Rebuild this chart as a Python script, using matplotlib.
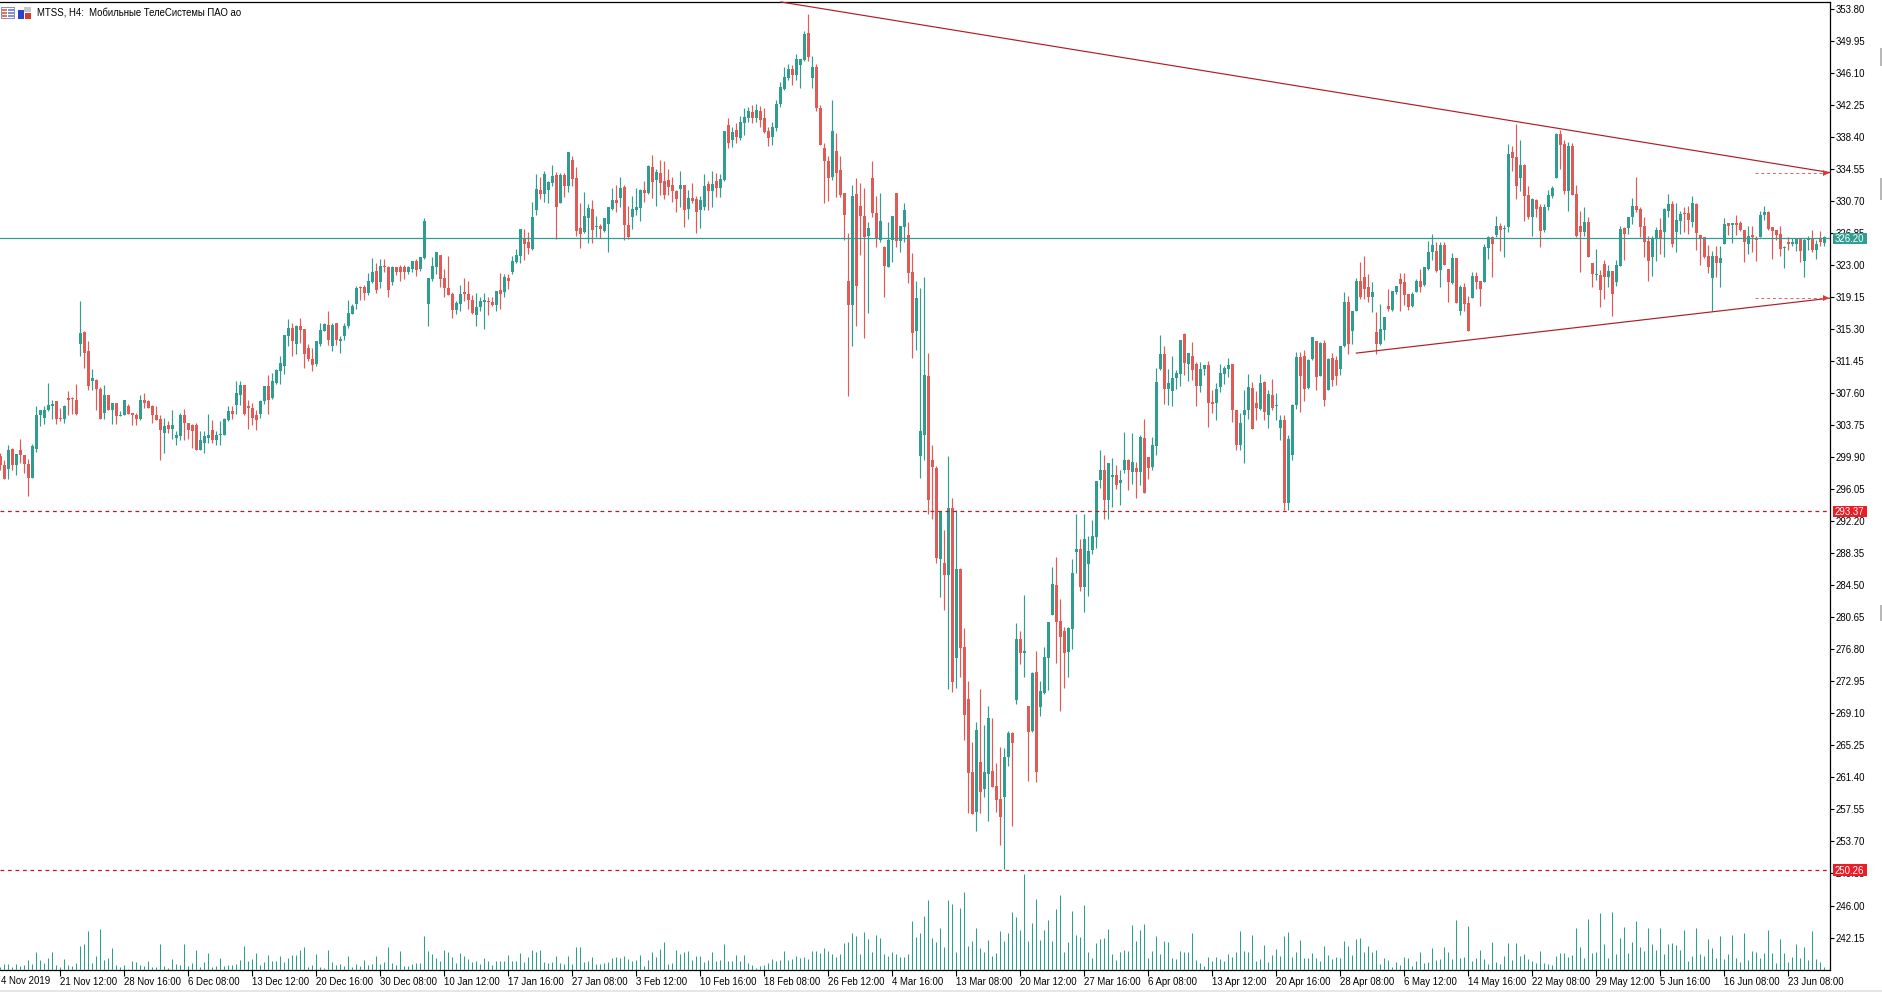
import matplotlib
matplotlib.use("Agg")
import matplotlib.pyplot as plt
from matplotlib.patches import Rectangle
from matplotlib.transforms import IdentityTransform

W, H = 1883, 992
GREEN = "#2f9e91"
RED = "#e25a56"
LEVEL_RED = "#c8141e"
TREND_RED = "#b01c26"
FONT = "Liberation Sans"
FONT_SIZE = 6.9

title = "MTSS, H4:  Мобильные ТелеСистемы ПАО ао"

opens = [
    300.0,299.0,298.5,300.9,298.9,300.8,300.2,299.1,297.4,300.9,304.9,304.6,305.5,306.1,306.6,304.6,304.5,307.0,307.0,306.8,
    313.5,314.9,312.7,309.1,309.2,308.1,305.2,307.4,305.6,306.4,304.8,304.9,306.1,305.2,304.9,304.5,306.8,306.6,306.1,305.0,
    304.5,302.8,303.7,303.3,302.2,302.4,305.0,304.0,303.8,303.7,300.8,301.6,302.2,303.2,302.0,302.5,302.6,304.3,305.4,306.2,
    307.4,308.6,306.1,305.8,304.9,305.1,306.6,308.5,307.0,308.8,310.3,310.8,314.5,315.4,313.5,315.6,315.3,313.0,311.7,311.1,
    313.5,315.1,315.8,313.3,316.0,313.9,314.5,315.6,317.1,318.3,320.4,320.4,319.6,321.0,322.3,321.0,322.9,322.8,321.0,322.7,
    322.7,322.8,322.2,322.5,323.5,322.5,323.8,318.3,321.3,322.8,324.2,321.4,320.2,319.5,317.6,318.3,319.8,319.5,318.8,317.0,
    317.9,318.6,318.7,318.6,318.2,320.0,319.8,321.4,322.2,323.4,324.1,326.1,325.8,324.9,329.6,332.0,331.5,332.0,332.8,333.8,
    330.4,333.8,332.5,335.6,333.4,327.4,327.0,328.6,329.7,327.5,327.7,327.1,327.9,329.7,330.8,331.0,332.4,327.8,328.8,329.6,
    329.8,332.0,331.6,334.8,333.2,334.0,333.1,333.2,332.6,331.9,332.1,332.6,329.7,331.0,330.9,329.6,330.0,332.7,331.9,333.1,
    332.2,333.2,339.8,338.0,339.2,338.2,340.0,340.6,341.4,340.6,341.5,340.6,339.1,338.4,339.4,342.3,344.2,345.5,346.6,345.8,
    347.0,347.6,350.9,345.5,346.8,341.9,337.1,335.5,333.6,336.7,334.4,331.6,321.1,318.2,331.5,330.1,328.9,326.5,333.5,329.2,
    326.0,325.2,322.8,326.0,331.7,325.9,327.6,326.6,322.2,315.0,300.0,302.5,309.7,299.6,298.6,287.7,287.2,285.7,293.8,275.7,
    286.5,277.1,270.8,262.1,257.3,263.2,260.0,261.8,262.2,260.4,258.8,259.0,263.9,266.7,270.7,278.0,276.4,270.0,267.0,274.1,
    269.9,271.6,275.8,280.9,284.5,280.2,279.0,276.5,279.2,288.5,288.8,284.3,287.0,288.7,290.3,297.2,298.4,294.7,297.5,297.8,
    296.8,298.4,299.5,298.1,298.6,298.1,302.2,299.9,298.7,301.2,310.5,312.3,308.1,307.9,309.4,309.9,314.7,311.1,312.1,311.1,
    308.5,310.5,311.0,306.5,306.4,308.3,309.9,310.5,311.1,305.6,301.3,305.0,305.5,308.2,306.4,305.7,308.9,304.9,307.4,306.0,
    303.4,304.4,294.4,300.1,306.2,311.9,312.1,308.2,311.7,313.9,309.7,313.6,308.0,311.8,311.6,310.5,313.2,318.5,315.0,317.4,
    321.1,321.6,320.4,319.1,314.9,313.5,315.2,318.1,317.6,319.7,321.3,320.9,319.5,318.1,319.8,321.1,320.6,322.5,324.6,324.7,
    322.4,325.4,322.5,320.8,323.8,317.4,320.3,318.4,319.0,321.7,321.1,321.0,325.0,326.3,326.6,327.7,327.3,327.6,336.6,336.0,
    333.5,335.0,331.4,328.8,330.8,329.9,327.2,329.9,331.3,333.5,338.7,337.5,331.9,337.3,331.5,327.7,327.0,328.2,323.2,321.8,
    321.8,323.1,321.6,322.3,321.0,322.9,327.4,327.4,328.8,330.1,329.7,327.7,325.9,324.0,326.1,327.2,327.0,329.5,330.3,327.0,
    328.3,329.2,329.2,328.2,330.3,326.6,326.4,324.1,321.4,324.1,323.2,325.5,328.0,327.8,328.0,328.0,327.2,325.5,326.6,326.2,
    326.4,329.0,329.4,327.6,327.2,326.7,325.0,325.7,325.5,325.5,326.2,323.5,326.0,326.1,324.8,326.1,325.6,
]
highs = [
    300.4,299.6,301.4,301.0,300.3,302.1,300.2,299.7,301.5,306.1,305.6,306.0,308.8,306.8,306.6,305.8,306.2,307.9,307.1,308.7,
    318.7,315.0,313.9,310.5,309.3,308.3,308.6,307.4,306.4,306.4,305.4,306.8,306.3,305.2,305.2,307.4,307.6,306.8,306.2,306.1,
    304.9,304.6,304.2,305.6,303.0,305.2,305.7,304.0,303.9,304.0,303.0,303.0,305.1,304.4,303.0,304.2,304.6,306.0,306.0,309.1,
    309.0,308.6,306.8,306.4,305.6,306.8,308.5,309.8,310.0,310.5,312.0,314.6,316.5,316.0,315.8,316.6,315.3,313.5,313.0,313.8,
    316.0,316.0,317.5,316.0,316.0,314.4,316.0,318.8,318.3,320.5,320.5,320.6,322.0,323.8,323.2,323.7,323.7,322.9,322.9,322.8,
    323.0,323.0,322.9,323.5,323.7,324.0,328.6,321.4,324.0,324.5,324.2,322.5,324.1,319.8,318.7,320.6,321.4,321.1,319.4,319.6,
    319.2,319.6,319.2,319.2,319.9,322.0,321.9,321.9,324.1,324.9,327.3,327.3,327.0,330.6,333.9,333.6,334.3,333.1,335.0,334.2,
    334.0,334.0,336.6,336.1,334.8,330.4,331.8,330.3,330.8,328.9,327.9,328.6,330.0,332.2,332.6,333.6,332.6,330.1,331.3,332.2,
    332.1,333.1,335.0,336.2,334.5,335.6,335.5,334.5,333.6,332.0,334.3,332.6,332.0,332.8,331.3,331.3,333.9,333.1,334.3,334.0,
    333.9,339.1,340.6,339.6,340.1,340.9,341.8,342.0,342.2,342.4,342.1,341.8,339.6,340.2,342.8,345.0,346.8,347.2,347.0,348.4,
    347.8,351.1,353.2,348.1,347.2,342.2,337.7,336.1,342.8,338.9,336.1,331.6,326.8,332.6,333.4,332.8,332.2,328.1,335.5,331.3,
    331.6,325.3,328.1,328.9,331.7,327.7,330.5,328.2,324.4,321.1,320.2,321.5,312.4,301.3,298.8,293.4,291.1,300.0,295.0,293.5,
    286.6,279.4,273.0,265.6,268.1,272.0,267.7,270.0,268.5,263.1,265.1,264.9,267.0,266.9,280.0,279.0,283.3,270.0,274.1,276.6,
    273.0,277.1,280.1,286.7,287.9,282.9,279.5,279.5,287.7,293.1,290.1,293.1,290.4,292.3,297.0,300.8,300.1,299.2,299.8,299.0,
    298.4,302.9,299.7,302.8,299.3,302.6,304.5,299.9,302.3,310.6,314.6,313.3,310.5,312.0,310.4,314.0,314.8,312.4,313.7,311.3,
    311.3,311.0,311.5,308.0,308.8,311.1,310.9,311.8,311.1,305.6,305.2,308.0,309.9,308.9,307.9,309.9,309.1,308.0,309.3,307.6,
    305.0,305.0,302.5,306.3,312.5,312.5,312.8,311.7,314.3,313.9,313.7,314.0,311.8,312.4,312.0,313.3,319.8,319.3,317.5,321.4,
    323.3,324.1,321.9,321.0,317.3,318.3,316.7,320.1,319.9,320.5,322.0,322.0,319.5,319.8,321.3,322.5,322.7,325.9,326.7,325.8,
    325.7,325.8,322.5,324.4,323.8,320.6,320.8,319.3,322.2,322.2,321.1,325.5,326.5,326.5,328.9,328.0,327.8,337.5,337.3,339.9,
    338.0,335.1,332.5,331.1,330.9,330.3,330.3,332.0,332.5,338.9,339.2,338.0,337.8,337.7,332.6,329.5,330.0,328.7,323.2,324.9,
    322.4,323.6,323.0,322.3,323.6,327.7,327.6,328.8,331.0,333.6,329.9,328.8,326.5,326.5,327.6,328.6,329.8,331.5,330.7,330.4,
    329.5,329.9,330.1,331.3,330.5,326.6,326.4,325.4,324.7,325.3,325.3,328.6,328.0,328.0,329.0,328.3,327.2,327.7,327.7,326.5,
    329.5,330.1,329.5,327.6,327.2,327.7,325.3,326.4,326.2,326.2,326.2,326.2,326.5,327.2,326.0,327.1,326.5,
]
lows = [
    298.4,297.3,297.3,298.3,297.7,299.2,298.0,295.2,297.4,300.5,303.6,303.9,305.4,304.5,303.9,304.2,304.0,305.0,305.1,304.9,
    312.1,310.6,308.0,308.0,305.5,304.5,304.5,305.6,303.9,303.9,304.8,304.9,305.1,303.7,303.8,304.4,305.8,305.8,304.0,304.4,
    299.6,300.4,302.8,302.1,301.3,301.9,302.0,302.1,301.0,300.8,300.8,300.4,301.6,301.6,301.4,301.3,302.5,304.2,304.5,305.1,
    306.2,305.0,303.3,303.8,303.1,304.6,306.3,305.1,306.9,308.7,308.7,309.9,313.3,312.1,312.3,313.6,310.6,311.4,310.3,310.9,
    313.3,315.1,313.4,312.7,313.4,312.4,314.0,315.4,317.1,317.7,318.8,318.8,319.4,320.8,319.6,320.2,322.2,319.2,320.6,321.8,
    321.1,321.3,321.9,322.2,321.7,322.3,323.7,315.7,321.1,321.9,320.4,319.2,319.4,316.6,317.1,317.5,318.7,317.7,317.1,315.7,
    317.5,315.3,317.0,318.1,317.5,317.7,319.2,320.1,321.9,323.2,323.2,323.6,324.3,324.8,329.0,330.9,330.6,330.4,332.5,326.1,
    330.4,331.2,331.8,332.5,326.5,325.0,326.8,325.6,325.6,326.4,326.2,327.0,324.6,329.6,329.3,330.0,326.0,326.1,327.3,329.0,
    328.3,330.6,331.5,331.0,330.1,331.4,330.9,331.4,330.6,329.4,329.9,327.6,328.5,330.4,326.8,327.4,329.6,329.6,330.0,331.2,
    331.2,333.1,337.0,337.2,337.6,338.0,338.6,340.2,340.0,340.2,339.6,338.9,337.3,337.4,339.1,342.0,344.0,345.2,344.6,345.2,
    344.3,347.5,347.5,344.3,341.5,337.4,330.4,330.7,333.2,331.2,331.2,326.0,307.3,313.3,315.6,324.2,314.2,317.2,328.7,325.1,
    325.8,319.2,322.7,323.4,325.1,324.5,325.8,320.8,311.8,312.8,297.4,299.5,293.0,292.5,287.2,283.1,281.5,272.0,271.7,272.1,
    273.5,265.9,257.1,257.0,254.9,257.1,259.1,256.1,260.2,257.3,253.3,250.4,262.8,255.6,270.2,275.0,273.5,261.0,266.9,260.9,
    268.8,271.4,271.9,280.9,275.1,269.4,272.2,273.5,276.8,286.0,283.8,281.3,283.2,288.2,289.0,296.2,292.4,292.4,293.9,296.1,
    294.2,298.0,295.9,296.7,295.0,296.5,295.6,297.3,298.3,300.1,310.4,306.3,306.2,306.1,308.1,308.5,309.8,309.0,309.2,306.1,
    307.7,309.8,303.5,305.2,304.4,307.7,308.7,309.5,304.1,300.8,300.7,299.2,304.5,303.3,304.4,305.5,304.4,303.4,305.5,304.4,
    302.0,293.5,293.5,299.5,305.7,305.3,306.7,308.1,311.6,308.0,309.7,306.1,308.0,308.4,308.6,309.8,313.1,312.3,313.5,317.4,
    318.9,318.9,318.5,317.3,312.3,313.4,314.0,317.5,317.5,319.5,317.5,318.2,317.6,318.0,319.7,319.7,320.5,322.4,323.6,322.2,
    320.3,323.0,318.6,320.7,318.4,317.0,317.4,315.1,319.0,320.1,318.1,321.0,323.7,321.5,326.3,324.7,324.0,327.0,334.3,330.9,
    331.9,328.3,328.5,326.5,328.7,325.1,327.0,329.6,331.1,333.5,334.5,331.5,329.5,331.4,326.3,322.2,326.5,324.0,320.4,321.2,
    318.0,318.9,320.4,316.8,320.5,322.9,323.6,326.7,327.9,329.4,326.3,324.0,321.1,321.7,323.5,324.3,324.0,328.8,325.1,324.6,
    326.7,326.9,326.7,327.6,324.8,323.0,323.8,322.0,317.5,321.5,320.3,325.5,326.6,325.6,326.6,327.1,323.4,324.3,324.5,323.5,
    326.4,328.4,327.2,323.7,326.0,324.1,322.6,324.8,325.3,324.7,323.4,321.5,324.8,324.5,323.7,325.3,325.3,
]
closes = [
    298.9,297.3,300.8,298.9,300.3,300.1,299.1,297.4,301.2,305.0,305.6,305.5,306.2,306.2,304.5,304.5,306.1,306.8,306.9,305.1,
    314.8,312.4,308.5,309.4,308.1,304.5,307.4,305.6,306.4,304.8,305.0,306.8,305.1,304.9,304.5,306.8,306.4,305.8,304.9,304.4,
    303.1,303.6,303.3,303.7,302.5,304.9,304.0,303.1,303.0,300.8,301.9,302.4,302.6,301.9,302.6,302.5,304.5,305.4,305.1,307.6,
    308.6,305.1,305.8,304.6,304.4,306.7,308.5,306.8,309.0,310.4,311.2,314.6,315.4,313.9,315.6,315.2,312.3,311.7,311.0,313.8,
    315.2,315.9,314.0,315.8,314.0,314.1,315.6,317.2,318.1,320.2,320.2,319.6,321.1,322.2,320.0,322.9,322.7,320.0,322.7,322.2,
    322.1,322.2,322.8,323.5,322.4,324.0,328.3,321.4,322.9,324.5,321.3,320.2,319.4,317.6,318.4,319.5,319.5,318.8,317.2,318.0,
    318.7,318.7,318.5,318.2,319.9,319.5,321.6,321.1,323.5,324.2,327.3,325.5,325.0,328.8,332.1,331.5,333.9,333.0,333.7,330.0,
    333.8,332.5,336.6,333.3,327.1,326.7,328.9,329.8,327.2,327.6,327.3,328.6,330.0,330.8,330.4,332.2,327.8,326.4,329.7,330.0,
    332.0,331.6,334.9,333.0,334.2,332.8,331.4,332.4,331.9,330.9,332.6,329.6,331.0,330.7,329.4,330.8,332.5,331.9,332.7,332.2,
    333.3,339.1,337.7,339.0,338.4,340.2,340.8,341.5,340.6,341.6,340.4,339.0,338.3,339.6,342.4,344.4,345.6,346.6,345.8,347.7,
    347.7,350.8,348.0,346.8,341.8,337.4,335.5,333.5,339.1,334.1,331.4,329.0,318.2,331.3,320.5,328.9,326.4,327.4,329.2,326.2,
    328.3,322.9,326.0,328.9,325.9,327.7,329.6,322.0,314.8,319.0,303.0,309.8,294.8,298.7,287.8,293.4,285.7,293.8,272.9,286.5,
    277.0,268.9,261.9,257.0,267.1,259.7,262.0,268.5,260.3,258.7,256.7,263.8,266.7,265.5,278.0,276.4,276.6,266.9,274.0,262.1,
    271.8,275.9,280.1,284.7,280.1,278.3,276.4,279.3,286.0,288.8,284.3,290.1,288.6,290.4,297.0,298.4,294.8,299.2,297.8,296.6,
    297.1,299.6,298.4,299.3,298.1,302.3,295.6,298.6,301.3,308.9,312.3,308.1,308.8,309.4,310.0,314.0,311.2,312.4,310.4,308.5,
    310.5,311.0,306.4,306.3,308.1,310.0,310.6,311.0,305.5,301.3,304.0,305.6,308.3,303.3,305.8,308.8,305.3,307.5,305.8,306.1,
    304.3,294.4,302.1,306.2,311.9,309.7,308.1,311.6,314.3,309.5,313.6,306.8,311.7,309.2,309.6,313.2,318.5,313.5,317.5,321.1,
    319.2,320.1,319.2,319.7,313.5,315.3,316.7,317.7,319.9,320.5,320.7,319.4,317.9,319.5,321.1,320.3,322.7,324.6,325.4,322.3,
    325.4,323.0,321.0,323.8,318.4,320.4,318.3,315.1,321.7,321.0,320.1,325.1,326.3,325.5,327.7,327.2,327.4,336.3,335.9,332.5,
    335.0,331.3,328.7,330.9,329.7,327.1,330.0,331.4,332.3,338.7,337.4,331.9,337.3,331.4,326.5,327.0,328.2,324.0,321.9,321.9,
    320.0,321.6,322.3,319.5,323.0,327.3,326.7,328.8,330.1,329.6,327.6,325.8,323.5,326.2,327.2,326.2,329.7,330.3,325.5,328.4,
    329.1,329.1,328.4,330.5,326.8,326.2,324.0,322.8,324.1,323.2,323.8,327.9,327.7,328.0,327.8,327.2,325.7,326.5,326.4,326.0,
    329.0,329.4,327.3,327.1,326.6,324.9,325.2,325.5,325.7,326.2,324.7,326.0,326.2,324.8,325.5,325.8,326.4,
]
volumes = [
    8,17,18,9,17,12,15,30,18,54,30,21,36,54,15,8,33,15,12,21,72,78,117,21,42,123,30,36,66,15,
    8,15,3,27,24,15,12,27,9,10,78,12,6,33,18,15,78,12,21,60,8,24,51,9,12,36,12,15,15,18,
    30,72,27,33,51,15,24,45,27,27,42,24,36,45,45,60,69,8,15,48,9,6,60,24,15,18,12,42,9,18,
    12,30,15,18,42,18,24,69,21,15,57,12,12,18,21,21,102,57,48,36,27,60,54,39,21,51,42,33,24,27,
    18,36,27,15,27,27,27,45,27,27,51,24,39,60,54,60,24,21,24,42,21,18,42,18,69,69,24,27,39,18,
    18,21,24,36,39,36,42,33,27,30,45,12,30,54,39,63,84,18,21,60,48,54,57,30,42,42,24,30,54,27,
    30,78,27,27,45,27,45,21,15,6,12,15,21,33,27,30,57,30,33,42,36,39,33,57,57,51,66,57,48,39,
    48,81,84,111,102,48,114,93,54,105,96,48,42,54,48,39,39,48,147,99,111,162,210,96,84,126,69,210,198,54,
    186,234,72,87,126,66,54,90,42,51,117,87,111,174,159,120,288,87,141,213,90,120,150,87,183,225,54,84,177,105,
    99,195,54,36,81,93,96,123,48,30,54,60,57,135,87,120,138,36,57,102,48,87,84,36,33,57,54,54,111,30,
    21,12,39,27,39,33,27,48,39,54,117,57,54,105,27,33,75,24,45,63,42,102,114,39,54,90,36,36,51,36,
    27,72,45,33,39,36,87,72,45,93,96,54,72,54,60,18,36,30,9,24,15,39,36,12,27,54,21,24,66,30,
    33,69,54,33,150,36,39,132,27,36,60,33,18,84,24,18,42,81,30,81,42,48,33,27,21,57,21,18,15,42,
    51,51,39,45,126,69,36,153,51,54,171,78,36,174,48,96,129,51,84,147,69,57,126,78,60,126,48,78,81,75,
    60,120,27,42,126,48,42,93,66,36,102,33,48,105,36,24,111,30,57,54,36,51,120,51,21,93,51,24,39,78,
    36,69,30,117,33,24,9,
]

price_ticks = [353.80, 349.95, 346.10, 342.25, 338.40, 334.55, 330.70, 326.85, 323.00, 319.15,
               315.30, 311.45, 307.60, 303.75, 299.90, 296.05, 292.20, 288.35, 284.50, 280.65,
               276.80, 272.95, 269.10, 265.25, 261.40, 257.55, 253.70, 249.85, 246.00, 242.15]
time_labels = ["4 Nov 2019", "21 Nov 12:00", "28 Nov 16:00", "6 Dec 08:00", "13 Dec 12:00",
               "20 Dec 16:00", "30 Dec 08:00", "10 Jan 12:00", "17 Jan 16:00", "27 Jan 08:00",
               "3 Feb 12:00", "10 Feb 16:00", "18 Feb 08:00", "26 Feb 12:00", "4 Mar 16:00",
               "13 Mar 08:00", "20 Mar 12:00", "27 Mar 16:00", "6 Apr 08:00", "13 Apr 12:00",
               "20 Apr 16:00", "28 Apr 08:00", "6 May 12:00", "14 May 16:00", "22 May 08:00",
               "29 May 12:00", "5 Jun 16:00", "16 Jun 08:00", "23 Jun 08:00"]

last_price = 326.20
support_levels = [293.37, 250.26]
upper_trend_bars = [195.2, 457.4]
upper_trend_prices = [354.6, 334.1]
lower_trend_bars = [339.0, 457.4]
lower_trend_prices = [312.4, 319.0]

bars = list(range(len(opens)))


def px_rect(fig, x, y, w, h, color):
    # pixel coords from the top left of the picture
    fig.add_artist(Rectangle((x, H - y - h), w, h, transform=IdentityTransform(),
                             facecolor=color, edgecolor="none"))


fig = plt.figure(figsize=(W / 100, H / 100), dpi=100, facecolor="white")
ax = fig.add_axes([0, 22 / H, 1830 / W, 968 / H])
ax.set_xlim(-0.075, 457.425)
ax.set_ylim(238.25, 354.6)

# volume sits on its own scale in the same box
vol_ax = fig.add_axes(ax.get_position(), frameon=False)
vol_ax.set_xlim(ax.get_xlim())
vol_ax.set_ylim(0, 968 * 3)
vol_ax.set_xticks([])
vol_ax.set_yticks([])
vol_ax.vlines(bars, 0, volumes, color=GREEN, linewidth=0.75)

# candles
colors = [GREEN if closes[i] >= opens[i] else RED for i in bars]
ax.vlines(bars, lows, highs, colors=colors, linewidth=0.85, zorder=2)
body_low = [min(opens[i], closes[i]) for i in bars]
body_size = [max(abs(closes[i] - opens[i]), 0.14) for i in bars]
ax.bar(bars, body_size, bottom=body_low, width=0.85, color=colors, linewidth=0, zorder=3)

# levels
ax.axhline(last_price, color=GREEN, linewidth=0.9, zorder=4)
for level in support_levels:
    ax.axhline(level, color=LEVEL_RED, linewidth=0.9, dashes=(3, 3), zorder=4)

# trend lines with the small dashed projection and arrow
for xs, ys in [(upper_trend_bars, upper_trend_prices), (lower_trend_bars, lower_trend_prices)]:
    ax.plot(xs, ys, color=TREND_RED, linewidth=0.85, zorder=5, clip_on=False)
    ax.plot([xs[1] - 18.7, xs[1]], [ys[1], ys[1]], color="#e0605c", linewidth=0.7,
            dashes=(3, 3), zorder=5)
    ax.plot([xs[1] - 0.9], [ys[1]], marker=">", markersize=5, color="#d83a3a",
            markeredgewidth=0, zorder=6, clip_on=False)

# axes frame
ax.spines["left"].set_visible(False)
for side in ["top", "right", "bottom"]:
    ax.spines[side].set_linewidth(0.9)
    ax.spines[side].set_color("black")

ax.yaxis.tick_right()
ax.set_yticks(price_ticks)
ax.set_yticklabels([f"{t:.2f}" for t in price_ticks], fontsize=FONT_SIZE, family=FONT)
ax.tick_params(axis="y", length=3, width=0.8, pad=1)

tick_bars = [-1 + 16 * k for k in range(len(time_labels))]
ax.set_xticks(tick_bars[1:])
ax.set_xticklabels(time_labels[1:], fontsize=FONT_SIZE, family=FONT, ha="left")
ax.tick_params(axis="x", length=4, width=0.8, pad=1)
ax.text(0.1, -0.0065, time_labels[0], transform=ax.get_xaxis_transform(), fontsize=FONT_SIZE,
        family=FONT, ha="left", va="top")

# price tags at the right
tags = [(last_price, GREEN)] + [(level, "#ee1c25") for level in support_levels]
for price, color in tags:
    ax.add_patch(Rectangle((1 + 3 / 1830, price - 0.68), 34 / 1830, 1.36, facecolor=color,
                           edgecolor="none", transform=ax.get_yaxis_transform(),
                           clip_on=False, zorder=7))
    ax.text(1 + 5 / 1830, price, f"{price:.2f}", color="white", fontsize=FONT_SIZE, family=FONT,
            va="center_baseline", ha="left", transform=ax.get_yaxis_transform(),
            clip_on=False, zorder=8)

# title and little toolbar icons
fig.text(37 / W, 1 - 12.7 / H, title, fontsize=FONT_SIZE, family=FONT, va="center", ha="left")
px_rect(fig, 1, 7, 14, 12, "#8c8fb8")
px_rect(fig, 2, 8, 12, 10, "white")
for row in [9, 12, 15]:
    px_rect(fig, 2, row, 5, 2, "#e8705c")
    px_rect(fig, 8, row, 6, 2, "#7f8fe0")
px_rect(fig, 18, 10, 6, 9, "#2f3fc8")
px_rect(fig, 25, 13, 6, 6, "#d83a2a")
px_rect(fig, 24, 7, 7, 5, "#c8c8d0")

# window edges
px_rect(fig, 0, 990, W, 2, "#e6e6e6")
for top, height in [(48, 18), (178, 22), (605, 16)]:
    px_rect(fig, 1880, top, 3, height, "#b8b8b8")

fig.savefig("out.png", dpi=100, facecolor="white")
